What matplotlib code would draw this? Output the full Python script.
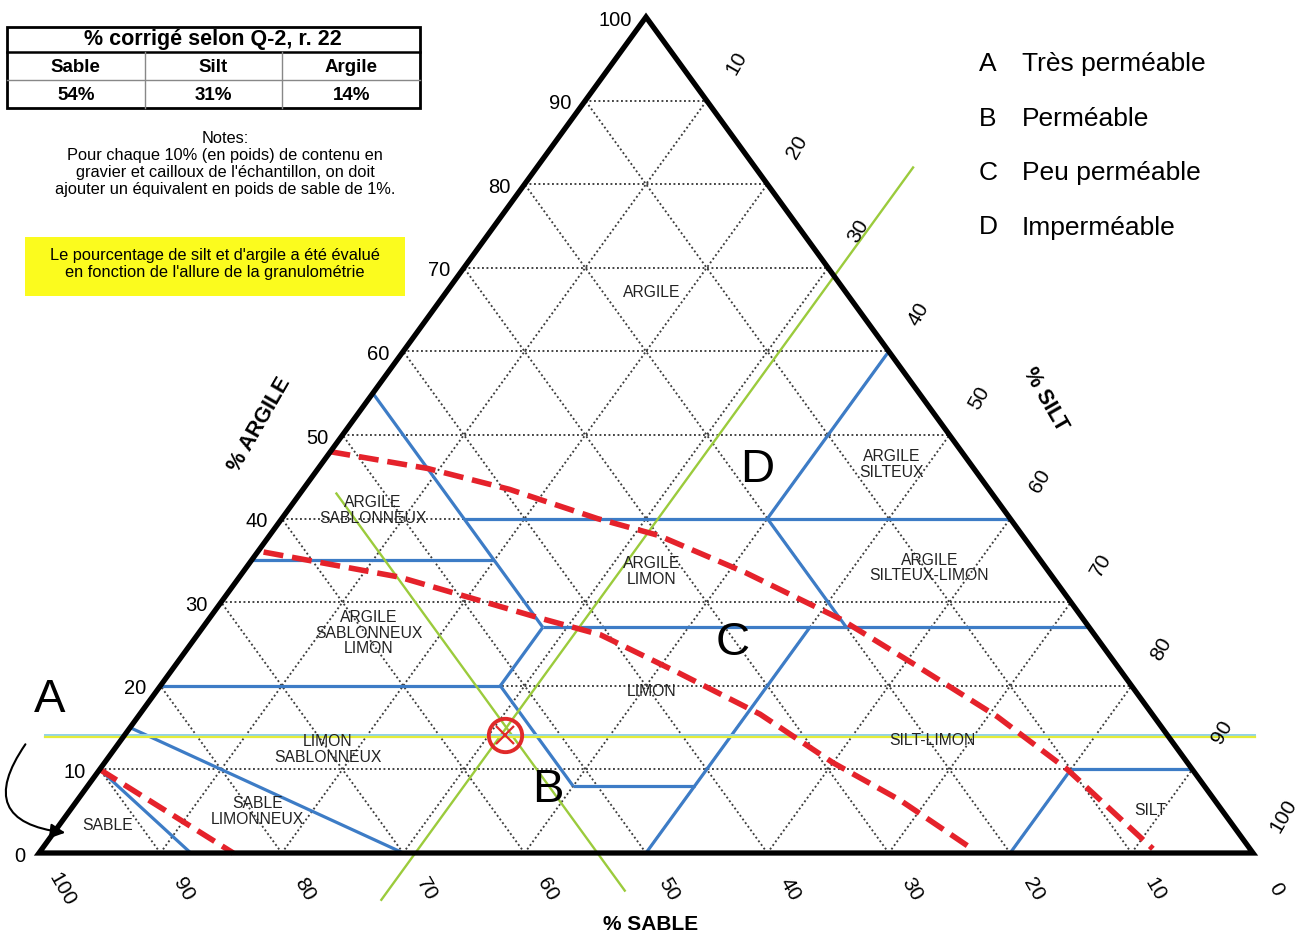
import numpy as np
import matplotlib.pyplot as plt
from matplotlib.patches import Rectangle, FancyArrowPatch, Polygon

plt.rcParams['font.family'] = ['Liberation Sans', 'DejaVu Sans']

W, H = 1298, 951

# granulométrie corrigée de l'échantillon (%)
sample_cols = ['Sable', 'Silt', 'Argile']
sample_pct = [54, 31, 14]

ticks = list(range(0, 101, 10))

# limites des classes texturales : extrémités en (argile, silt)
class_limits = [
    [(40, 15), (40, 60)],
    [(40, 40), (60, 40)],
    [(55, 0), (27, 28)],
    [(35, 0), (35, 20)],
    [(27, 28), (27, 73)],
    [(27, 53), (40, 40)],
    [(20, 0), (20, 28)],
    [(20, 28), (27, 28)],
    [(20, 28), (8, 40)],
    [(8, 40), (8, 50)],
    [(0, 50), (27, 50)],
    [(10, 80), (10, 90)],
    [(0, 80), (10, 80)],
    [(15, 0), (0, 30)],
    [(10, 0), (0, 12.5)],
]

# limites de perméabilité (argile, silt)
limit_ab = [(10, 0), (0, 16)]
limit_bc = [(36, 0.5), (33, 13.2), (28.1, 27.2), (26.1, 33.2), (21.5, 42),
            (16.6, 51.1), (10.8, 60), (6.3, 67.8), (0.7, 76.3)]
limit_cd = [(48, 0), (46, 9), (43.5, 17), (40, 26), (38, 32), (33.5, 41.5),
            (28, 52), (22.7, 60.6), (16.3, 70.8), (10, 79.7), (0.5, 91.5)]

class_names = ['ARGILE', 'ARGILE\nSILTEUX', 'ARGILE\nSABLONNEUX', 'ARGILE\nLIMON',
               'ARGILE\nSILTEUX-LIMON', 'ARGILE\nSABLONNEUX\nLIMON', 'LIMON',
               'LIMON\nSABLONNEUX', 'SILT-LIMON', 'SILT', 'SABLE\nLIMONNEUX', 'SABLE']
class_centers = [(67, 17), (46.5, 47), (41, 7), (33.7, 33.6), (34.1, 56.3), (26.3, 14),
                 (19.3, 40.8), (12.4, 17.6), (13.4, 66.9), (5.1, 89), (5, 15.5), (3.3, 4)]

perm_letters = ['A', 'B', 'C', 'D']
perm_names = ['Très perméable', 'Perméable', 'Peu perméable', 'Imperméable']


def tern(a, s):
    a = np.asarray(a, dtype=float)
    s = np.asarray(s, dtype=float)
    return s + a / 2, a


def line_of(pts):
    a, s = zip(*pts)
    return tern(a, s)


fig = plt.figure(figsize=(W / 100, H / 100), dpi=100)
ax = fig.add_axes([0, 0, 1, 1])
ax.set_xlim(-39 / 12.14, (W - 39) / 12.14)
ax.set_ylim((853 - H) / 8.36, 853 / 8.36)
ax.axis('off')

# overlay en pixels pour le tableau, les notes et la légende
ov = fig.add_axes([0, 0, 1, 1])
ov.set_xlim(0, W)
ov.set_ylim(H, 0)
ov.axis('off')

# grille pointillée
dot = dict(color='#3c3c3c', lw=1.35, ls=(0, (1, 1.4)), zorder=1)
for v in range(10, 100, 10):
    ax.plot(*tern([v, v], [0, 100 - v]), **dot)
    ax.plot(*tern([0, 100 - v], [v, v]), **dot)
    ax.plot(*tern([0, 100 - v], [100 - v, 0]), **dot)

# classes texturales
for seg in class_limits:
    ax.plot(*line_of(seg), color='#3d7cc6', lw=2.3, zorder=2, solid_capstyle='butt')

# lignes de lecture de l'échantillon
sable, silt, argile = sample_pct
a_s = np.array([43.0, -4.5])
ax.plot(*tern(a_s, 100 - sable - a_s), color='#9bcb3c', lw=1.7, zorder=3)
a_t = np.array([-5.6, 82.0])
ax.plot(*tern(a_t, [silt, silt]), color='#9bcb3c', lw=1.7, zorder=3)
ax.plot([0.5, 100.2], [argile + 0.15, argile + 0.15], color='#8fd3e8', lw=1.4, zorder=3)
ax.plot([0.5, 100.2], [argile - 0.1, argile - 0.1], color='#e4ec3a', lw=1.6, zorder=3)

# limites de perméabilité
for curve in (limit_ab, limit_bc, limit_cd):
    ax.plot(*line_of(curve), color='#e5222b', lw=4, dashes=(3.6, 1.6), zorder=4,
            solid_joinstyle='round')

# contour du triangle
ax.add_patch(Polygon(np.column_stack(tern([0, 0, 100], [0, 100, 0])), closed=True,
                     fill=False, ec='black', lw=3.8, joinstyle='miter', zorder=5))

# point de l'échantillon
tot = sum(sample_pct)
pa, ps = tern(100 * argile / tot, 100 * silt / tot)
ax.plot(pa, ps, 'o', ms=24, mfc='none', mec='#e02a2a', mew=2.8, zorder=6)
ax.plot(pa, ps, 'x', ms=13, mec='#e02a2a', mew=1.6, zorder=6)

# graduations
for v in ticks:
    ax.annotate(str(v), tern(v, 0), xytext=(-14, -3), textcoords='offset pixels',
                ha='right', va='center', fontsize=14.5)
    ax.annotate(str(v), tern(0, 100 - v), xytext=(23, -36), textcoords='offset pixels',
                ha='center', va='center', fontsize=15, rotation=-60)
    if v > 0:
        ax.annotate(str(v), tern(100 - v, v), xytext=(30, 37), textcoords='offset pixels',
                    ha='center', va='center', fontsize=15, rotation=60)

ov.text(260, 425, '% ARGILE', rotation=60, ha='center', va='center',
        fontsize=15.5, fontweight='bold')
ov.text(1045, 400, '% SILT', rotation=-60, ha='center', va='center',
        fontsize=15.5, fontweight='bold')
ov.text(651, 925, '% SABLE', ha='center', va='center', fontsize=15, fontweight='bold')

# noms des classes
for name, (ca, cs) in zip(class_names, class_centers):
    x, y = tern(ca, cs)
    ax.text(x, y, name, ha='center', va='center', fontsize=11.3, color='#222222',
            linespacing=1.05, zorder=7)

# zones de perméabilité
for letter, (px, py) in zip(perm_letters, [(50, 700), (548, 790), (733, 643), (757, 470)]):
    ov.text(px, py, letter, ha='center', va='center', fontsize=34)

# flèche vers le sommet sable
ov.add_patch(FancyArrowPatch((27, 742), (68, 833), connectionstyle='arc3,rad=0.85',
                             arrowstyle='-|>', mutation_scale=22, lw=1.5, color='black'))

# légende
for i, (letter, name) in enumerate(zip(perm_letters, perm_names)):
    y = 64 + i * 54.5
    ov.text(988, y, letter, ha='center', va='center', fontsize=19)
    ov.text(1022, y, name, ha='left', va='center', fontsize=19)

# tableau de la granulométrie corrigée
ov.add_patch(Rectangle((7, 27), 413, 81, fill=False, ec='black', lw=2))
ov.plot([7, 420], [52, 52], color='black', lw=1.8)
ov.plot([7, 420], [80, 80], color='#888888', lw=1)
cw = 413 / 3
for i in (1, 2):
    ov.plot([7 + i * cw, 7 + i * cw], [52, 108], color='#888888', lw=1)
ov.text(213, 40, '% corrigé selon Q-2, r. 22', ha='center', va='center',
        fontsize=15.5, fontweight='bold')
for i, (col, pct) in enumerate(zip(sample_cols, sample_pct)):
    cx = 7 + (i + 0.5) * cw
    ov.text(cx, 67, col, ha='center', va='center', fontsize=13.5, fontweight='bold')
    ov.text(cx, 95, f'{pct}%', ha='center', va='center', fontsize=13.5, fontweight='bold')

ov.text(225, 164, 'Notes:\nPour chaque 10% (en poids) de contenu en\n'
        "gravier et cailloux de l'échantillon, on doit\n"
        'ajouter un équivalent en poids de sable de 1%.',
        ha='center', va='center', fontsize=11.8, linespacing=1.15)

ov.add_patch(Rectangle((25, 237), 380, 59, fc='#fbfb1e', ec='none'))
ov.text(215, 264, "Le pourcentage de silt et d'argile a été évalué\n"
        "en fonction de l'allure de la granulométrie",
        ha='center', va='center', fontsize=11.8, linespacing=1.15)

fig.savefig('out.png', dpi=100)
